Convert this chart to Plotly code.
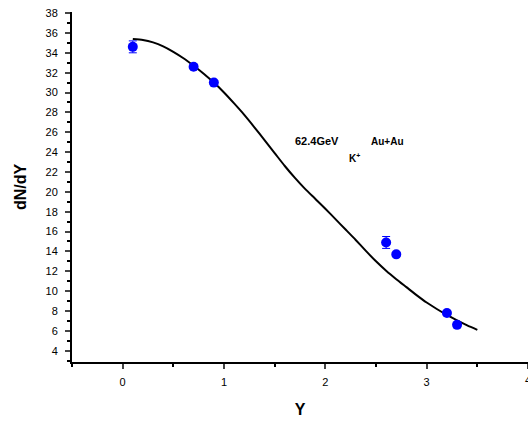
import plotly.graph_objects as go

# Experimental data points
data_y = [0.1, 0.7, 0.9, 2.6, 2.7, 3.2, 3.3]
data_dndy = [34.6, 32.6, 31.0, 14.9, 13.7, 7.8, 6.6]
data_err = [0.6, 0.2, 0.2, 0.6, 0.2, 0.2, 0.2]

# Model curve
curve_y = [0.1, 0.2, 0.3, 0.4, 0.5, 0.6, 0.7, 0.8, 0.9, 1.0, 1.1, 1.2, 1.3, 1.4,
           1.5, 1.6, 1.7, 1.8, 1.9, 2.0, 2.1, 2.2, 2.3, 2.4, 2.5, 2.6, 2.7, 2.8,
           2.9, 3.0, 3.1, 3.2, 3.3, 3.4, 3.5]
curve_dndy = [35.4, 35.3, 35.05, 34.65, 34.1, 33.45, 32.7, 31.9, 31.0, 30.0, 28.9,
              27.75, 26.5, 25.2, 23.9, 22.6, 21.4, 20.3, 19.3, 18.3, 17.25, 16.2,
              15.15, 14.05, 13.0, 12.05, 11.2, 10.4, 9.6, 8.85, 8.2, 7.6, 7.05, 6.55, 6.1]

x_ticks = [0, 1, 2, 3, 4]
y_ticks = list(range(4, 40, 2))

fig = go.Figure()
fig.add_trace(go.Scatter(x=curve_y, y=curve_dndy, mode="lines",
                         line=dict(color="black", width=2, shape="spline", smoothing=0.6),
                         showlegend=False))
fig.add_trace(go.Scatter(x=data_y, y=data_dndy, mode="markers",
                         marker=dict(color="#0000FF", size=10),
                         error_y=dict(type="data", array=data_err, color="#0000FF",
                                      thickness=1, width=4),
                         showlegend=False))

font_tick = dict(family="Arial, Liberation Sans, sans-serif", size=11, color="black")

fig.update_layout(
    width=528, height=423,
    margin=dict(l=72, r=0, t=12, b=61),
    paper_bgcolor="white", plot_bgcolor="white",
    font=dict(family="Arial, Liberation Sans, sans-serif", color="black"),
    xaxis=dict(range=[-0.5, 4.0], tickvals=x_ticks, ticks="outside", ticklen=5,
               tickwidth=2, showline=True, linecolor="black", linewidth=2,
               showgrid=False, zeroline=False, tickfont=font_tick,
               ticklabelstandoff=4,
               minor=dict(dtick=0.5, tick0=0, ticks="outside", ticklen=3,
                         tickwidth=2, tickcolor="black", showgrid=False),
               title=dict(text="<b>Y</b>", font=dict(size=16), standoff=17)),
    yaxis=dict(range=[2.86, 38.11], tickvals=y_ticks, ticks="outside", ticklen=5,
               tickwidth=2, showline=True, linecolor="black", linewidth=2,
               showgrid=False, zeroline=False, tickfont=font_tick,
               ticklabelstandoff=5,
               minor=dict(dtick=1, tick0=0, ticks="outside", ticklen=3,
                          tickwidth=2, tickcolor="black", showgrid=False),
               title=dict(text="<b>dN/dY</b>", font=dict(size=16), standoff=15)),
    annotations=[
        dict(x=1.685, y=25.1, xref="x", yref="y", text="<b>62.4GeV</b>",
             showarrow=False, xanchor="left", yanchor="middle", font=dict(size=11)),
        dict(x=2.43, y=25.1, xref="x", yref="y", text="<b>Au+Au</b>",
             showarrow=False, xanchor="left", yanchor="middle", font=dict(size=10)),
        dict(x=2.217, y=23.4, xref="x", yref="y", text="<b>K<sup>+</sup></b>",
             showarrow=False, xanchor="left", yanchor="middle", font=dict(size=10)),
        dict(x=4.0, y=0, xref="x", yref="paper", yshift=-18, text="4",
             showarrow=False, xanchor="center", yanchor="middle", font=font_tick),
    ],
)

fig.write_html("out.html")
